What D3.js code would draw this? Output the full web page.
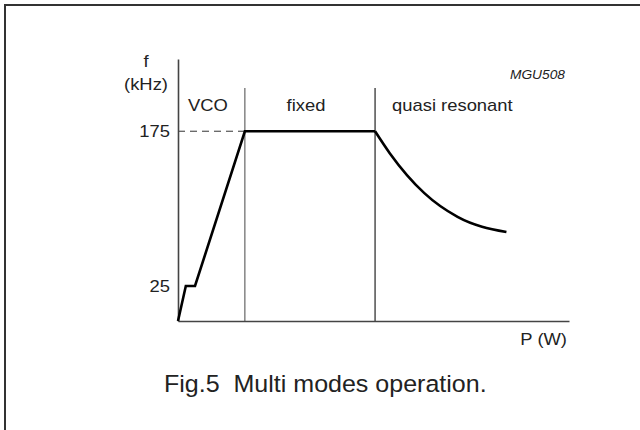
<!DOCTYPE html>
<html>
<head>
<meta charset="utf-8">
<script src="https://cdn.jsdelivr.net/npm/d3@7"></script>
<style>
  body { margin: 0; background: #fff; }
  text { font-family: "Liberation Sans", Arial, sans-serif; fill: #222; white-space: pre; }
</style>
</head>
<body>
<div id="chart"></div>
<script>
// schematic: frequency vs output power, three operating modes
const modeNames = ['VCO', 'fixed', 'quasi resonant'];
const modeStarts = [0, 17.1, 50.4];          // P where each mode begins
const rampP = [0, 2, 4.35, 17.1, 50.4];       // VCO ramp + fixed plateau
const rampF = [0, 25, 25, 175, 175];
const qrP = [50.4, 54.2, 63, 71.5, 84];
const qrF = [175, 153.5, 115, 92, 77.3];
const fTicks = [25, 175];
const fMax = 245, dividerTop = 217;

const width = 640, height = 430;

const svg = d3.select('#chart')
    .append('svg')
    .attr('width', width)
    .attr('height', height);

// frame (only left/top edges show in the picture)
svg.append('rect')
    .attr('x', 5).attr('y', 5)
    .attr('width', 700).attr('height', 500)
    .attr('fill', 'none')
    .attr('stroke', '#333')
    .attr('stroke-width', 2);

const x = d3.scaleLinear().domain([0, 100]).range([178, 569]);
const y = d3.scaleLinear().domain([0, 25, fMax]).range([321, 286, 59]);

function label(str, px, py, size, sx, anchor) {
    return svg.append('text')
        .attr('transform', 'translate(' + px + ',' + py + ') scale(' + sx + ',1)')
        .attr('text-anchor', anchor)
        .style('font-size', size + 'px')
        .text(str);
}

// dashed guide at 175 kHz
svg.append('line')
    .attr('x1', x(0)).attr('x2', x(modeStarts[1]))
    .attr('y1', y(175)).attr('y2', y(175))
    .attr('stroke', '#333')
    .attr('stroke-dasharray', '7,5');

// mode dividers
svg.selectAll('.divider')
    .data(modeStarts.slice(1))
    .enter()
    .append('line')
    .attr('class', 'divider')
    .attr('x1', d => x(d)).attr('x2', d => x(d))
    .attr('y1', y(0)).attr('y2', y(dividerTop))
    .attr('stroke', (d, i) => i === 0 ? '#666' : '#222')
    .attr('stroke-width', 1.2);

// axes
const yAxis = svg.append('g')
    .attr('transform', 'translate(' + x(0) + ',0)')
    .call(d3.axisLeft(y).tickValues(fTicks).tickSize(0).tickSizeOuter(0).tickPadding(7));
yAxis.selectAll('text')
    .attr('transform', 'scale(1.15,1)')
    .style('font-size', '16px')
    .style('fill', '#222');

const xAxis = svg.append('g')
    .attr('transform', 'translate(0,' + y(0) + ')')
    .call(d3.axisBottom(x).tickValues([]).tickSizeOuter(0));

svg.selectAll('.domain')
    .attr('stroke', '#444')
    .attr('stroke-width', 1.6);

// frequency curve
const line = d3.line()
    .x(d => x(d[0]))
    .y(d => y(d[1]));

svg.append('path')
    .datum(rampP.map((p, i) => [p, rampF[i]]))
    .attr('d', line)
    .attr('fill', 'none')
    .attr('stroke', '#000')
    .attr('stroke-width', 2.6)
    .attr('stroke-linejoin', 'miter');

svg.append('path')
    .datum(qrP.map((p, i) => [p, qrF[i]]))
    .attr('d', line.curve(d3.curveMonotoneX))
    .attr('fill', 'none')
    .attr('stroke', '#000')
    .attr('stroke-width', 2.6);

// mode labels
label(modeNames[0], 208, 111, 16, 1.15, 'middle');
label(modeNames[1], 306, 111, 16, 1.15, 'middle');
label(modeNames[2], 392, 111, 16, 1.15, 'start');

// axis titles
label('f', 146, 67, 16, 1.15, 'middle');
label('(kHz)', 146, 90, 16, 1.15, 'middle');
label('P (W)', 567, 345, 16, 1.15, 'end');
label('MGU508', 565, 79, 13, 1.06, 'end').style('font-style', 'italic');

// caption
label('Fig.5  Multi modes operation.', 164, 391.5, 23.5, 1.065, 'start');
</script>
</body>
</html>
